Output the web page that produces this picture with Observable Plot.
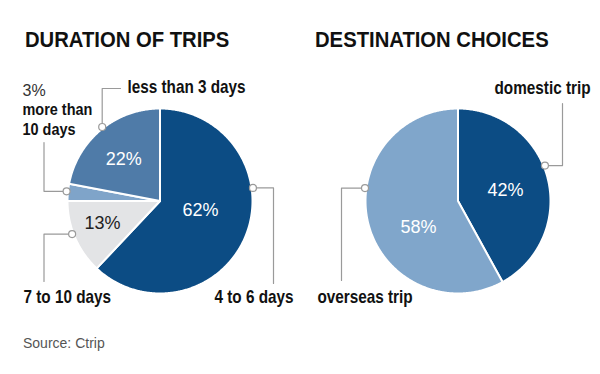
<!DOCTYPE html>
<html>
<head>
<meta charset="utf-8">
<script src="https://cdn.jsdelivr.net/npm/d3@7"></script>
<script src="https://cdn.jsdelivr.net/npm/@observablehq/plot@0.6"></script>
<style>
  body { margin: 0; background: #fff; }
  #wrap { position: relative; width: 600px; height: 374px; overflow: hidden; font-family: "Liberation Sans", Arial, sans-serif; }
  .title { position: absolute; top: 29px; line-height: 1; font-family: "Liberation Sans", Arial, sans-serif; font-weight: bold; font-size: 22.5px; color: #111; white-space: nowrap; transform-origin: 0 0; transform: scaleX(0.9); }
  #chart { position: absolute; left: 0; top: 62px; }
  #caption { position: absolute; left: 23px; top: 336px; line-height: 1; font-size: 14px; color: #555; }
</style>
</head>
<body>
<div id="wrap">
  <div class="title" id="t0"></div>
  <div class="title" id="t1"></div>
  <div id="chart"></div>
  <div id="caption"></div>
</div>
<script>
// ---------- data ----------
const chartTitles = ["DURATION OF TRIPS", "DESTINATION CHOICES"];
const durationCategories = ["4 to 6 days", "7 to 10 days", "more than 10 days", "less than 3 days"];
const durationShares = [62, 13, 3, 22];
const destinationCategories = ["domestic trip", "overseas trip"];
const destinationShares = [42, 58];
const sourceNote = "Source: Ctrip";

// ---------- styles / layout ----------
const durationColors = ["#0c4c84", "#e3e4e6", "#7fa4c9", "#4f7ba8"];
const durationTextColors = ["#fff", "#222", null, "#fff"];
const destinationColors = ["#0c4c84", "#80a6cb"];
const destinationTextColors = ["#fff", "#fff"];

const R = 92.5;             // px per pie radius
const W = 600, H = 250;     // svg size
const pieCenterPx = [[159.5, 138.5], [457.5, 138.5]];
const toUnit = (px, py) => [(px - pieCenterPx[0][0]) / R, -(py - pieCenterPx[0][1]) / R];
const condense = 0.85;      // horizontal squeeze for bold category labels

// value-label placement (angle deg, radius fraction) per slice
const durationValuePlace = [[103, 0.45], [248.6, 0.667], null, [318.7, 0.595]];
const destinationValuePlace = [[77.5, 0.525], [236, 0.515]];

// leader layout: anchor angle on rim, path offsets (px from pie centre, y down; null = keep previous), text offset + anchor
const durationLeaders = [
  {angle: 82, path: [[113.5, null], [113.5, 82.5]], text: [133.5, 101.5], anchor: "end"},
  {angle: 249.4, path: [[-116, null], [-116, 80.5]], text: [-136.5, 101.5], anchor: "start"},
  {angle: 275.9, path: [[-116, null], [-116, -58.5]], text: [-137.5, -66.5], anchor: "start", pre: [-137.5, -105.5], lines: ["more than", "10 days"]},
  {angle: 322, path: [[null, -112.5], [-39.5, -112.5]], text: [-32.5, -108.5], anchor: "start"}
];
const destinationLeaders = [
  {angle: 67.8, path: [[104.5, null], [104.5, -97.5]], text: [132.5, -107.5], anchor: "end"},
  {angle: 277.9, path: [[-116.5, null], [-116.5, 79.5]], text: [-140.5, 101.5], anchor: "start"}
];

document.getElementById("t0").textContent = chartTitles[0];
document.getElementById("t0").style.left = "25px";
document.getElementById("t1").textContent = chartTitles[1];
document.getElementById("t1").style.left = "315px";
document.getElementById("caption").textContent = sourceNote;

const pies = [
  {cats: durationCategories, vals: durationShares, colors: durationColors, tcolors: durationTextColors, place: durationValuePlace, leaders: durationLeaders},
  {cats: destinationCategories, vals: destinationShares, colors: destinationColors, tcolors: destinationTextColors, place: destinationValuePlace, leaders: destinationLeaders}
];

const slicePts = [], valueLabels = [], leaderPts = [], leaderDots = [], catLabels = [], multiLabels = [], preLabels = [];
const deg = Math.PI / 180;

pies.forEach((p, pi) => {
  const [cxPx, cyPx] = pieCenterPx[pi];
  const [cx, cy] = toUnit(cxPx, cyPx);
  const arcs = d3.pie().sort(null).value(d => d)(p.vals);
  arcs.forEach((a, i) => {
    const key = pi + "-" + i;
    slicePts.push({key, x: cx, y: cy, fill: p.colors[i]});
    const n = Math.max(2, Math.ceil((a.endAngle - a.startAngle) / (0.5 * deg)));
    for (let k = 0; k <= n; k++) {
      const t = a.startAngle + (a.endAngle - a.startAngle) * k / n;
      slicePts.push({key, x: cx + Math.sin(t), y: cy + Math.cos(t), fill: p.colors[i]});
    }
    const pl = p.place[i];
    if (pl) {
      const t = pl[0] * deg;
      valueLabels.push({x: cx + pl[1] * Math.sin(t), y: cy + pl[1] * Math.cos(t), text: p.vals[i] + "%", color: p.tcolors[i]});
    }
    const L = p.leaders[i];
    const t = L.angle * deg;
    const ax = cx + 1.015 * Math.sin(t), ay = cy + 1.015 * Math.cos(t);
    let px = ax, py = ay;
    leaderPts.push({key: key, x: ax, y: ay});
    L.path.forEach(([dx, dy]) => {
      if (dx !== null) px = cx + dx / R;
      if (dy !== null) py = cy - dy / R;
      leaderPts.push({key: key, x: px, y: py});
    });
    leaderDots.push({x: ax, y: ay});
    if (L.pre) {
      preLabels.push({x: cx + L.pre[0] / R, y: cy - L.pre[1] / R, text: p.vals[i] + "%"});
      multiLabels.push({x: cx + L.text[0] / R, y: cy - L.text[1] / R, text: L.lines.join("\n"), anchor: L.anchor});
    } else {
      catLabels.push({x: cx + L.text[0] / R, y: cy - L.text[1] / R, text: p.cats[i], anchor: L.anchor});
    }
  });
});

const xDom = [toUnit(0, 0)[0], toUnit(W, 0)[0]];
const yDom = [toUnit(0, H)[1], toUnit(0, 0)[1]];
const boldFont = '"Liberation Sans", Arial, sans-serif';
const regFont = '"Liberation Sans", Arial, sans-serif';
const boldOpts = {x: "x", y: "y", text: "text", fill: "#111", fontWeight: "bold", fontFamily: boldFont, lineAnchor: "bottom"};

const chart = Plot.plot({
  width: W, height: H,
  margin: 0,
  x: {domain: xDom, axis: null},
  y: {domain: yDom, axis: null},
  color: {type: "identity"},
  style: {background: "transparent", overflow: "visible"},
  marks: [
    Plot.line(slicePts, {x: "x", y: "y", z: "key", fill: "fill", stroke: "#fff", strokeWidth: 2, strokeLinejoin: "round", curve: "linear-closed"}),
    Plot.line(leaderPts, {x: "x", y: "y", z: "key", stroke: "#9a9a9a", strokeWidth: 1.2}),
    Plot.dot(leaderDots, {x: "x", y: "y", r: 3.5, fill: "#fff", stroke: "#9a9a9a", strokeWidth: 1.2}),
    Plot.text(valueLabels, {x: "x", y: "y", text: "text", fill: "color", fontSize: 18, fontFamily: regFont, textAnchor: "middle", lineAnchor: "middle"}),
    Plot.text(preLabels, {x: "x", y: "y", text: "text", fill: "#333", fontSize: 16, fontFamily: regFont, textAnchor: "start", lineAnchor: "bottom"}),
    Plot.text(catLabels.filter(d => d.anchor === "start"), {...boldOpts, fontSize: 18, textAnchor: "start"}),
    Plot.text(catLabels.filter(d => d.anchor === "end"), {...boldOpts, fontSize: 18, textAnchor: "end"}),
    Plot.text(multiLabels, {...boldOpts, fontSize: 17, textAnchor: "start", lineHeight: 1.13})
  ]
});
// squeeze bold labels horizontally around their anchor to mimic a condensed face
d3.select(chart).selectAll('g[font-weight="bold"] text').each(function() {
  const tr = this.getAttribute("transform") || "";
  this.setAttribute("transform", tr + " scale(" + condense + ",1)");
});
document.getElementById("chart").appendChild(chart);
</script>
</body>
</html>
